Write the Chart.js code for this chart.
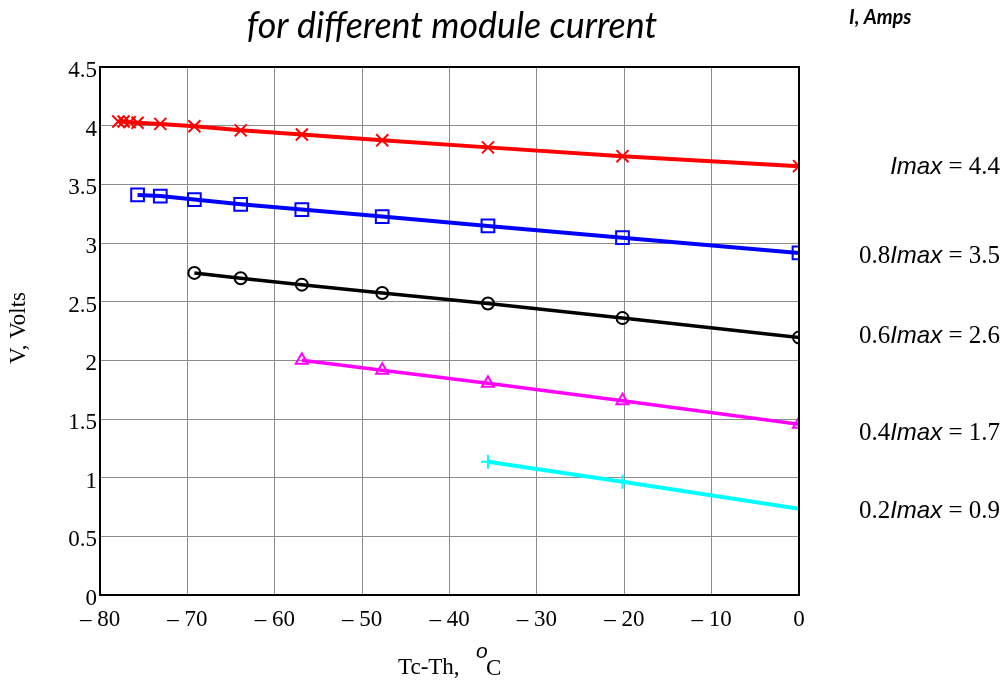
<!DOCTYPE html>
<html>
<head>
<meta charset="utf-8">
<script src="https://cdn.jsdelivr.net/npm/chart.js@4.4.1/dist/chart.umd.min.js"></script>
<style>
html,body{margin:0;padding:0;background:#fff;}
canvas{display:block;}
</style>
</head>
<body>
<canvas id="c" width="1003" height="687"></canvas>
<script>
// ---- data ----
const xRed     = [-77.9, -77.3, -76.6, -75.7, -73.1, -69.2, -63.9, -56.9, -47.7, -35.6, -20.2, 0];
const vRed     = [4.035, 4.035, 4.03, 4.025, 4.015, 3.995, 3.96, 3.925, 3.875, 3.815, 3.74, 3.655];
const xBlue    = [-75.7, -73.1, -69.2, -63.9, -56.9, -47.7, -35.6, -20.2, 0];
const vBlue    = [3.41, 3.40, 3.37, 3.33, 3.285, 3.225, 3.145, 3.045, 2.915];
const xBlack   = [-69.2, -63.9, -56.9, -47.7, -35.6, -20.2, 0];
const vBlack   = [2.745, 2.70, 2.645, 2.574, 2.485, 2.36, 2.195];
const xMagenta = [-56.9, -47.7, -35.6, -20.2, 0];
const vMagenta = [2.00, 1.915, 1.805, 1.655, 1.455];
const xCyan    = [-35.6, -20.2, 0];
const vCyan    = [1.135, 0.965, 0.735];

const seriesLabels = [
  {pre:'',    val:'4.4'},
  {pre:'0.8', val:'3.5'},
  {pre:'0.6', val:'2.6'},
  {pre:'0.4', val:'1.7'},
  {pre:'0.2', val:'0.9'}
];
const titleText = 'for different module current';
const unitText = 'I, Amps';
const xTitle = 'Tc-Th,';
const yTitle = 'V, Volts';

function pts(xs, ys){ return xs.map((x,i)=>({x:x, y:ys[i]})); }

function ds(label, xs, ys, color, style, radius, lw){
  return {
    label: label, data: pts(xs, ys), showLine: true,
    borderColor: color, backgroundColor: 'rgba(0,0,0,0)',
    borderWidth: lw, pointStyle: style, pointRadius: radius,
    pointBorderColor: color, pointBackgroundColor: 'rgba(0,0,0,0)',
    pointBorderWidth: 2, pointHoverRadius: radius, tension: 0
  };
}

const labelY = [167, 256, 336, 433, 511];

const annot = {
  id: 'annot',
  afterDraw(chart){
    const ctx = chart.ctx, a = chart.chartArea;
    ctx.save();
    // frame
    ctx.strokeStyle = '#000'; ctx.lineWidth = 2;
    ctx.strokeRect(a.left, a.top, a.right - a.left, a.bottom - a.top);

    // title
    ctx.fillStyle = '#000';
    ctx.textBaseline = 'middle';
    let fs = 30;
    ctx.font = 'italic ' + fs + 'px Lato';
    const w = ctx.measureText(titleText).width;
    fs = fs * 410 / w;
    ctx.font = 'italic ' + fs.toFixed(1) + 'px Lato';
    ctx.textAlign = 'center';
    ctx.fillText(titleText, 452, 26);

    // unit
    ctx.font = 'italic bold 20px Lato';
    ctx.textAlign = 'left';
    ctx.fillText(unitText, 849, 18);

    // right labels
    seriesLabels.forEach((s, i) => {
      const runs = [];
      if (s.pre) runs.push({t: s.pre, f: '25px "Liberation Serif"'});
      runs.push({t: 'Imax', f: 'italic 24px "Liberation Sans"'});
      runs.push({t: ' = ' + s.val, f: '25px "Liberation Serif"'});
      let tot = 0;
      runs.forEach(r => { ctx.font = r.f; r.w = ctx.measureText(r.t).width; tot += r.w; });
      let x = 1000 - tot;
      ctx.textAlign = 'left';
      runs.forEach(r => { ctx.font = r.f; ctx.fillText(r.t, x, labelY[i]); x += r.w; });
    });

    // x title
    ctx.font = '23px "Liberation Serif"';
    ctx.textAlign = 'left';
    ctx.fillText(xTitle, 398, 668);
    ctx.font = 'italic 21px "Liberation Sans"';
    ctx.fillText('o', 476, 652);
    ctx.font = '23px "Liberation Serif"';
    ctx.fillText('C', 486, 669);

    // y title
    ctx.save();
    ctx.translate(19, 328);
    ctx.rotate(-Math.PI / 2);
    ctx.textAlign = 'center';
    ctx.font = '23px "Liberation Serif"';
    ctx.fillText(yTitle, 0, 0);
    ctx.restore();

    ctx.restore();
  }
};

new Chart(document.getElementById('c'), {
  type: 'scatter',
  data: {
    datasets: [
      ds('Imax = 4.4', xRed, vRed, '#ff0000', 'crossRot', 8.5, 4),
      ds('0.8Imax = 3.5', xBlue, vBlue, '#0000ff', 'rect', 9, 4),
      ds('0.6Imax = 2.6', xBlack, vBlack, '#000000', 'circle', 6, 3.5),
      ds('0.4Imax = 1.7', xMagenta, vMagenta, '#ff00ff', 'triangle', 7, 3.5),
      ds('0.2Imax = 0.9', xCyan, vCyan, '#00ffff', 'cross', 7, 4)
    ]
  },
  options: {
    responsive: false,
    animation: false,
    devicePixelRatio: 1,
    layout: { padding: { left: 0, top: 67, right: 204, bottom: 0 } },
    plugins: { legend: { display: false }, tooltip: { enabled: false }, title: { display: false } },
    scales: {
      x: {
        type: 'linear', min: -80, max: 0,
        afterFit: s => { s.height = 92; },
        grid: { color: '#8c8c8c', lineWidth: 1, drawTicks: false },
        border: { display: true, color: '#000', width: 2 },
        ticks: {
          stepSize: 10, padding: 11, color: '#000',
          font: { family: '"Liberation Serif"', size: 23 },
          maxRotation: 0, autoSkip: false,
          callback: v => v < 0 ? '\u2013 ' + Math.abs(v) : String(v)
        }
      },
      y: {
        type: 'linear', min: 0, max: 4.5,
        afterFit: s => { s.width = 100; },
        grid: { color: '#8c8c8c', lineWidth: 1, drawTicks: false },
        border: { display: true, color: '#000', width: 2 },
        ticks: {
          stepSize: 0.5, padding: 3, color: '#000', labelOffset: 4,
          font: { family: '"Liberation Serif"', size: 23 },
          autoSkip: false,
          callback: v => String(Math.round(v * 10) / 10)
        }
      }
    }
  },
  plugins: [annot]
});
</script>
</body>
</html>
